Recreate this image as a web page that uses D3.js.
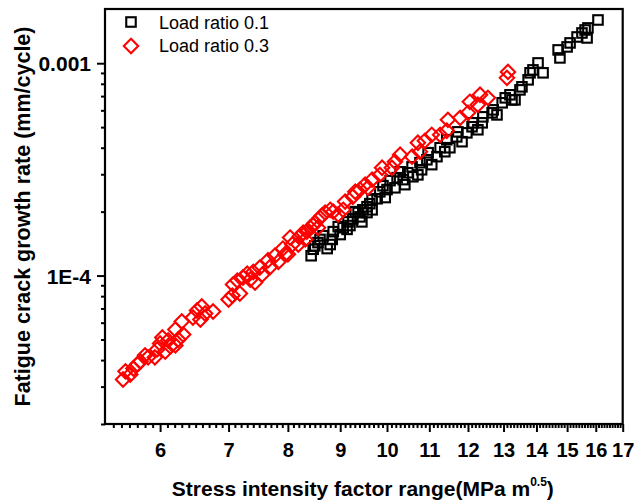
<!DOCTYPE html>
<html>
<head>
<meta charset="utf-8">
<script src="https://cdn.jsdelivr.net/npm/d3@7"></script>
<style>
  html, body { margin: 0; padding: 0; background: #fff; }
  svg { display: block; font-family: Arial, "Liberation Sans", Helvetica, sans-serif; }
</style>
</head>
<body>
<svg id="chart" width="637" height="504"></svg>
<script>
// Stress intensity factor range, ΔK (MPa m^0.5), and crack growth rate da/dN (mm/cycle)
const r01_dK = [8.43, 8.47, 8.50, 8.56, 8.60, 8.66, 8.74, 8.84, 8.86, 8.96, 9.06, 9.14, 9.16, 9.26, 9.31, 9.37, 9.41, 9.47, 9.56, 9.56,
  9.62, 9.67, 9.78, 9.84, 9.91, 10.00, 10.07, 10.23, 10.30, 10.37, 10.48, 10.58, 10.60, 10.77, 10.81, 10.94, 10.97, 11.19, 11.27, 11.39,
  11.44, 11.70, 11.73, 11.97, 12.11, 12.14, 12.39, 12.41, 12.67, 12.70, 12.96, 13.05, 13.19, 13.25, 13.49, 13.55, 13.74, 13.80, 13.89, 14.05,
  14.21, 14.70, 14.76, 15.00, 15.10, 15.34, 15.51, 15.62, 15.69, 15.72, 16.08,
  8.80, 9.00, 9.20, 9.45, 9.67, 9.96, 10.18, 10.41, 10.72, 11.06, 11.52, 11.84, 12.27, 12.81, 13.34];
const r01_rate = [1.24e-4, 1.33e-4, 1.38e-4, 1.43e-4, 1.48e-4, 1.54e-4, 1.34e-4, 1.48e-4, 1.61e-4, 1.70e-4, 1.68e-4, 1.65e-4, 1.79e-4, 1.85e-4, 2.00e-4, 1.98e-4, 1.89e-4, 2.04e-4, 2.11e-4, 1.98e-4,
  2.18e-4, 2.28e-4, 2.30e-4, 2.48e-4, 2.65e-4, 2.54e-4, 2.80e-4, 2.89e-4, 3.08e-4, 2.83e-4, 3.05e-4, 3.25e-4, 2.92e-4, 3.40e-4, 3.15e-4, 3.51e-4, 3.79e-4, 3.63e-4, 4.00e-4, 3.83e-4,
  4.36e-4, 4.50e-4, 4.75e-4, 4.70e-4, 5.02e-4, 5.24e-4, 5.24e-4, 5.59e-4, 5.84e-4, 6.03e-4, 6.51e-4, 6.87e-4, 7.10e-4, 6.72e-4, 7.49e-4, 7.74e-4, 8.35e-4, 9.01e-4, 9.30e-4, 1.003e-3,
  9.01e-4, 1.155e-3, 1.059e-3, 1.193e-3, 1.246e-3, 1.329e-3, 1.388e-3, 1.434e-3, 1.315e-3, 1.466e-3, 1.598e-3,
  1.40e-4, 1.56e-4, 1.72e-4, 1.79e-4, 2.04e-4, 2.33e-4, 2.59e-4, 2.68e-4, 2.98e-4, 3.33e-4, 4.00e-4, 4.27e-4, 4.86e-4, 5.71e-4, 6.72e-4];

const r03_dK = [5.52, 5.55, 5.61, 5.65, 5.70, 5.74, 5.80, 5.84, 5.93, 5.96, 6.00, 6.03, 6.07, 6.11, 6.14, 6.21, 6.21, 6.25, 6.30, 6.32,
  6.46, 6.52, 6.57, 6.59, 6.64, 6.76, 7.00, 7.06, 7.07, 7.14, 7.18, 7.23, 7.30, 7.40, 7.43, 7.51, 7.65, 7.69, 7.77, 7.91,
  7.95, 8.04, 8.08, 8.22, 8.28, 8.35, 8.41, 8.47, 8.50, 8.60, 8.64, 8.70, 8.80, 8.86, 9.06, 9.10, 9.26, 9.31, 9.41, 9.58,
  9.67, 9.84, 9.89, 10.11, 10.30, 10.58, 10.72, 10.77, 10.89, 11.06, 11.44, 11.47, 12.00, 12.05, 12.27, 12.33, 12.55, 13.10, 13.13,
  7.35, 7.55, 7.83, 8.00, 8.19, 8.32, 8.56, 8.96, 9.52, 10.18, 11.27, 11.79];
const r03_rate = [3.24e-5, 3.54e-5, 3.42e-5, 3.65e-5, 3.82e-5, 3.94e-5, 4.21e-5, 4.12e-5, 4.12e-5, 4.49e-5, 4.79e-5, 5.11e-5, 4.39e-5, 4.95e-5, 4.64e-5, 4.69e-5, 5.57e-5, 5.00e-5, 6.08e-5, 5.28e-5,
  6.35e-5, 6.85e-5, 6.21e-5, 7.15e-5, 6.63e-5, 6.77e-5, 7.71e-5, 8.05e-5, 9.07e-5, 9.47e-5, 8.23e-5, 9.79e-5, 1.02e-4, 1.04e-4, 9.27e-5, 1.09e-4, 1.18e-4, 1.10e-4, 1.24e-4, 1.34e-4,
  1.26e-4, 1.51e-4, 1.40e-4, 1.53e-4, 1.59e-4, 1.61e-4, 1.68e-4, 1.72e-4, 1.77e-4, 1.87e-4, 1.92e-4, 1.98e-4, 2.04e-4, 2.00e-4, 2.04e-4, 2.23e-4, 2.35e-4, 2.48e-4, 2.54e-4, 2.59e-4,
  2.83e-4, 2.98e-4, 3.22e-4, 3.22e-4, 3.71e-4, 3.63e-4, 4.22e-4, 3.83e-4, 4.31e-4, 4.60e-4, 4.81e-4, 5.41e-4, 5.84e-4, 6.58e-4, 6.37e-4, 7.10e-4, 6.87e-4, 8.53e-4, 9.10e-4,
  9.58e-5, 1.01e-4, 1.16e-4, 1.26e-4, 1.40e-4, 1.48e-4, 1.68e-4, 1.94e-4, 2.68e-4, 3.44e-4, 4.60e-4, 5.53e-4];

const seriesNames = ["Load ratio 0.1", "Load ratio 0.3"];
const xTickValues = [6, 7, 8, 9, 10, 11, 12, 13, 14, 15, 16, 17];
const yTickValues = [1e-4, 1e-3];
const yTickLabels = ["1E-4", "0.001"];
const xDomain = [5.3, 17];
const yDomain = [2e-5, 1.8e-3];

const svg = d3.select("#chart");
const plot = { left: 105, right: 622.7, top: 9, bottom: 424 };

const x = d3.scaleLog().domain(xDomain).range([plot.left, plot.right]);
const y = d3.scaleLog().domain(yDomain).range([plot.bottom, plot.top]);

// minor ticks: every 0.1 along x, every unit of each decade along y
const xMinor = d3.range(54, 170).map(v => v / 10).filter(v => Math.abs(v - Math.round(v)) > 1e-6);
const yMinor = [];
[1e-5, 1e-4].forEach(dec => { for (let k = 2; k <= 9; k++) { const v = k * dec; if (v >= yDomain[0] && v <= yDomain[1]) yMinor.push(v); } });

const xAxisMinor = d3.axisBottom(x).tickValues(xMinor).tickSize(4).tickFormat("");
const xAxisMajor = d3.axisBottom(x).tickValues(xTickValues).tickSize(8).tickFormat(d3.format("d"));
const yAxisMinor = d3.axisLeft(y).tickValues(yMinor).tickSize(4).tickFormat("");
const yAxisMajor = d3.axisLeft(y).tickValues(yTickValues).tickSize(8)
  .tickFormat((d, i) => yTickLabels[i]);

function styleAxis(g) {
  g.select(".domain").remove();
  g.selectAll(".tick line").attr("stroke", "#000").attr("stroke-width", 2);
}

svg.append("g").attr("transform", `translate(0,${plot.bottom})`).call(xAxisMinor).call(styleAxis);
const gx = svg.append("g").attr("transform", `translate(0,${plot.bottom})`).call(xAxisMajor).call(styleAxis);
gx.selectAll(".tick text").attr("font-size", 20).attr("font-weight", "bold").attr("fill", "#000")
  .attr("font-family", "Arial, 'Liberation Sans', sans-serif").attr("y", 33).attr("dy", 0);

svg.append("g").attr("transform", `translate(${plot.left},0)`).call(yAxisMinor).call(styleAxis);
const gy = svg.append("g").attr("transform", `translate(${plot.left},0)`).call(yAxisMajor).call(styleAxis);
gy.selectAll(".tick text").attr("font-size", 21).attr("font-weight", "bold").attr("fill", "#000")
  .attr("font-family", "Arial, 'Liberation Sans', sans-serif").attr("x", -14).attr("dy", "0.36em");

// frame
svg.append("rect")
  .attr("x", plot.left).attr("y", plot.top)
  .attr("width", plot.right - plot.left).attr("height", plot.bottom - plot.top)
  .attr("fill", "none").attr("stroke", "#000").attr("stroke-width", 2.2);

// data markers
const sq = 9.5;
const dh = 7.2;
const markerStroke = 2.1;
const r01 = r01_dK.map((d, i) => ({ dk: d, rate: r01_rate[i] }));
const r03 = r03_dK.map((d, i) => ({ dk: d, rate: r03_rate[i] }));

const diamond = (cx, cy, h) => `M${cx},${cy - h}L${cx + h},${cy}L${cx},${cy + h}L${cx - h},${cy}Z`;

svg.append("g").selectAll("rect").data(r01).join("rect")
  .attr("x", d => x(d.dk) - sq / 2).attr("y", d => y(d.rate) - sq / 2)
  .attr("width", sq).attr("height", sq)
  .attr("fill", "none").attr("stroke", "#000").attr("stroke-width", markerStroke);

svg.append("g").selectAll("path").data(r03).join("path")
  .attr("d", d => diamond(x(d.dk), y(d.rate), dh))
  .attr("fill", "none").attr("stroke", "#ff0000").attr("stroke-width", markerStroke);

// legend
const legend = svg.append("g");
legend.append("rect").attr("x", 131 - sq / 2).attr("y", 22 - sq / 2).attr("width", sq).attr("height", sq)
  .attr("fill", "none").attr("stroke", "#000").attr("stroke-width", markerStroke);
legend.append("path").attr("d", diamond(131, 46, dh))
  .attr("fill", "none").attr("stroke", "#ff0000").attr("stroke-width", markerStroke);
legend.selectAll("text").data(seriesNames).join("text")
  .attr("x", 159).attr("y", (d, i) => 28.5 + i * 23.5)
  .attr("font-size", 18).attr("fill", "#000").text(d => d);

// axis titles
const xt = svg.append("text").attr("x", (plot.left + plot.right) / 2 - 1).attr("y", 496)
  .attr("text-anchor", "middle").attr("font-size", 21).attr("font-weight", "bold").attr("fill", "#000");
xt.append("tspan").text("Stress intensity factor range(MPa m");
xt.append("tspan").attr("font-size", 12).attr("dy", -10).text("0.5");
xt.append("tspan").attr("dy", 10).text(")");

svg.append("text")
  .attr("transform", `translate(30,${(plot.top + plot.bottom) / 2}) rotate(-90)`)
  .attr("text-anchor", "middle").attr("font-size", 21.5).attr("font-weight", "bold").attr("fill", "#000")
  .text("Fatigue crack growth rate (mm/cycle)");
</script>
</body>
</html>
